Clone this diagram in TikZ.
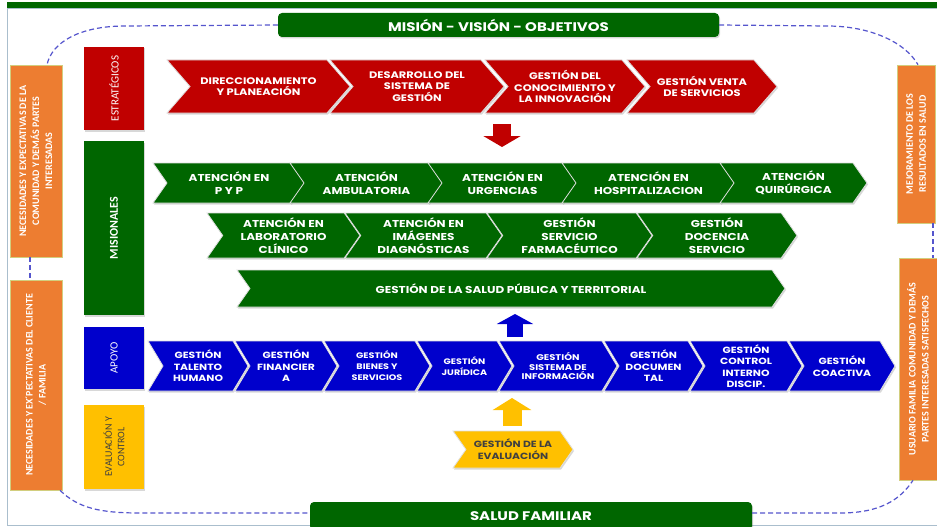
\documentclass[tikz,border=0pt]{standalone}
\usepackage{fontspec}
\setmainfont{Carlito}
\newfontfamily\boxfont{Poppins}[FakeStretch=1.2]
\usetikzlibrary{shapes.symbols,shadows,arrows.meta}
\definecolor{dkgreen}{RGB}{0,102,0}
\definecolor{dkred}{RGB}{192,0,0}
\definecolor{dkblue}{RGB}{0,0,204}
\definecolor{amber}{RGB}{255,192,0}
\definecolor{orng}{RGB}{237,125,49}
\definecolor{linkblue}{RGB}{85,85,205}
\definecolor{framegray}{RGB}{170,190,205}
\begin{document}
\begin{tikzpicture}[x=1pt, y=-1pt,
    chev/.style={signal, signal from=west, signal to=east, draw=gray!25, line width=.8pt, text=white, align=center, inner sep=0pt, drop shadow={opacity=.3, shadow xshift=1pt, shadow yshift=-1.5pt}},
    redchev/.style={chev, fill=dkred, minimum height=53pt, signal pointer angle=98, font=\boxfont\bfseries\fontsize{9.5}{11.5}\selectfont},
    greenchev/.style={chev, fill=dkgreen, signal pointer angle=110, font=\boxfont\bfseries\fontsize{10}{13}\selectfont},
    bluechev/.style={chev, fill=dkblue, minimum height=50pt, signal pointer angle=118, font=\boxfont\bfseries\fontsize{9}{11.5}\selectfont},
    bluesmall/.style={font=\boxfont\bfseries\fontsize{8}{11}\selectfont},
    bluetiny/.style={font=\boxfont\bfseries\fontsize{8.3}{9.5}\selectfont},
    yellowchev/.style={chev, fill=amber, text=black!75, minimum height=37pt, signal pointer angle=110, font=\boxfont\bfseries\fontsize{9}{12}\selectfont},
    sidebox/.style={rectangle, rotate=90, fill=orng, draw=olive!40, line width=.6pt, text=white, align=center, inner sep=0pt, font=\bfseries\fontsize{10}{13}\selectfont},
    catbox/.style={rectangle, rotate=90, minimum height=60pt, text=white, align=center, inner sep=0pt, drop shadow={opacity=.3, shadow xshift=1pt, shadow yshift=-1.5pt}, font=\fontsize{11}{13}\selectfont},
    banner/.style={rectangle, rounded corners=4pt, fill=dkgreen, text=white, inner sep=0pt, drop shadow={opacity=.3, shadow xshift=1pt, shadow yshift=-1.5pt}, font=\boxfont\bfseries\fontsize{12.5}{14}\selectfont},
    linkdash/.style={draw=linkblue, line width=1.2pt, dash pattern=on 5pt off 3pt}]
\useasboundingbox (0,0) rectangle (937,527);
\fill[white] (0,0) rectangle (937,527);
\draw[framegray, line width=.8pt] (7,8) rectangle (945,525);
\fill[dkgreen] (7,2.5) rectangle (945,8);
\node[banner, minimum width=441pt, minimum height=24pt] (mision) at (498.5,25) {MISIÓN - VISIÓN - OBJETIVOS};
\node[banner, minimum width=442pt, minimum height=28pt] (salud) at (531,516) {SALUD FAMILIAR};
\node[sidebox, minimum width=192pt, minimum height=52pt] (lbox1) at (36,161) {NECESIDADES Y EXPECTATIVAS DE LA\\COMUNIDAD Y DEMÁS PARTES\\INTERESADAS};
\node[sidebox, minimum width=210pt, minimum height=52pt] (lbox2) at (36,385) {NECESIDADES Y EX´PECTATIVAS DEL CLIENTE\\/ FAMILIA};
\node[sidebox, minimum width=158pt, minimum height=38pt] (rbox1) at (916,144) {MEJORAMIENTO DE LOS\\RESULTADOS EN SALUD};
\node[sidebox, minimum width=222pt, minimum height=38pt] (rbox2) at (918,369) {USUARIO FAMILIA COMUNIDAD Y DEMÁS\\PARTES INTERESADAS SATISFECHOS};
\draw[linkdash] (mision.west) -- (125,26) .. controls (80,26) and (52,42) .. ([xshift=11pt]lbox1.east);
\draw[linkdash] (mision.east) -- (827,26) .. controls (870,26) and (905,42) .. ([xshift=2pt]rbox1.east);
\draw[linkdash] ([xshift=-6pt]lbox1.west) -- ([xshift=-6pt]lbox2.east);
\draw[linkdash] ([xshift=17pt]rbox1.west) -- ([xshift=15pt]rbox2.east);
\draw[linkdash] ([xshift=24pt]lbox2.west) .. controls (78,508) and (100,513) .. (140,513) -- ([yshift=3pt]salud.west);
\draw[linkdash] ([yshift=3pt]salud.east) -- (840,513) .. controls (880,513) and (900,500) .. ([xshift=-5pt]rbox2.west);
\node[catbox, fill=dkred, minimum width=83pt] (estr) at (114,88.5) {ESTRATÉGICOS};
\node[catbox, fill=dkgreen, minimum width=174pt, font=\bfseries\fontsize{12}{14}\selectfont] (mis) at (114,228) {MISIONALES};
\node[catbox, fill=dkblue, minimum width=62pt] (apoyo) at (114,358) {APOYO};
\node[catbox, fill=amber, text=black!75, minimum width=84pt, font=\fontsize{10}{12.5}\selectfont] (eval) at (114,447) {EVALUACIÓN Y\\CONTROL};
\node[redchev, minimum width=183pt] (s1) at (258.5,86.5) {DIRECCIONAMIENTO\\Y PLANEACIÓN};
\node[redchev, minimum width=174pt] (s2) at (417,86.5) {DESARROLLO DEL\\SISTEMA DE\\GESTIÓN};
\node[redchev, minimum width=160pt] (s3) at (565,86.5) {GESTIÓN DEL\\CONOCIMIENTO Y\\LA INNOVACIÓN};
\node[redchev, minimum width=150pt] (s4) at (702,86.5) {GESTIÓN VENTA\\DE SERVICIOS};
\node[greenchev, minimum width=152pt, minimum height=40pt] (m1) at (229,183) {ATENCIÓN EN\\P Y P};
\node[greenchev, minimum width=153pt, minimum height=40pt] (m2) at (366.5,183) {ATENCIÓN\\AMBULATORIA};
\node[greenchev, minimum width=149pt, minimum height=40pt] (m3) at (502.5,183) {ATENCIÓN EN\\URGENCIAS};
\node[greenchev, minimum width=173pt, minimum height=40pt] (m4) at (648.5,183) {ATENCIÓN EN\\HOSPITALIZACION};
\node[greenchev, minimum width=147pt, minimum height=40pt] (m5) at (793.5,183) {ATENCIÓN\\QUIRÚRGICA};
\node[greenchev, minimum width=153pt, minimum height=45pt] (m6) at (283.5,235.5) {ATENCIÓN EN\\LABORATORIO\\CLÍNICO};
\node[greenchev, minimum width=157pt, minimum height=45pt] (m7) at (423.5,235.5) {ATENCIÓN EN\\IMÁGENES\\DIAGNÓSTICAS};
\node[greenchev, minimum width=165pt, minimum height=45pt] (m8) at (569.5,235.5) {GESTIÓN\\SERVICIO\\FARMACÉUTICO};
\node[greenchev, minimum width=160pt, minimum height=45pt] (m9) at (717,235.5) {GESTIÓN\\DOCENCIA\\SERVICIO};
\node[greenchev, minimum width=548pt, minimum height=37pt] (m10) at (511,288.5) {GESTIÓN DE LA SALUD PÚBLICA Y TERRITORIAL};
\node[bluechev, minimum width=100pt] (a1) at (198,366) {GESTIÓN\\TALENTO\\HUMANO};
\node[bluechev, minimum width=102pt] (a2) at (286,366) {GESTIÓN\\FINANCIER\\A};
\node[bluechev, bluesmall, minimum width=106pt] (a3) at (377,366) {GESTIÓN\\BIENES Y\\SERVICIOS};
\node[bluechev, bluesmall, minimum width=95pt] (a4) at (464.5,366) {GESTIÓN\\JURÍDICA};
\node[bluechev, bluetiny, minimum width=118pt] (a5) at (558,366) {GESTIÓN\\SISTEMA DE\\INFORMACIÓN};
\node[bluechev, minimum width=99pt] (a6) at (653.5,366) {GESTIÓN\\DOCUMEN\\TAL};
\node[bluechev, minimum width=112pt] (a7) at (746,366) {GESTIÓN\\CONTROL\\INTERNO\\DISCIP.};
\node[bluechev, minimum width=106pt] (a8) at (842,366) {GESTIÓN\\COACTIVA};
\node[yellowchev, minimum width=120pt] (e1) at (513,449.5) {GESTIÓN DE LA\\EVALUACIÓN};
\coordinate (downtop) at (502,124);
\coordinate (downtip) at (502,147);
\coordinate (uptail) at (515,337);
\coordinate (uptip) at (515,314);
\coordinate (evaltail) at (512,426);
\coordinate (evaltip) at (512,398);
\draw[dkred, line width=18pt, -{Triangle[width=37pt, length=11pt]}] (downtop) -- (downtip);
\draw[dkblue, line width=16pt, -{Triangle[width=36pt, length=10pt]}] (uptail) -- (uptip);
\draw[amber, line width=19pt, -{Triangle[width=38pt, length=12pt]}] (evaltail) -- (evaltip);
\end{tikzpicture}
\end{document}
